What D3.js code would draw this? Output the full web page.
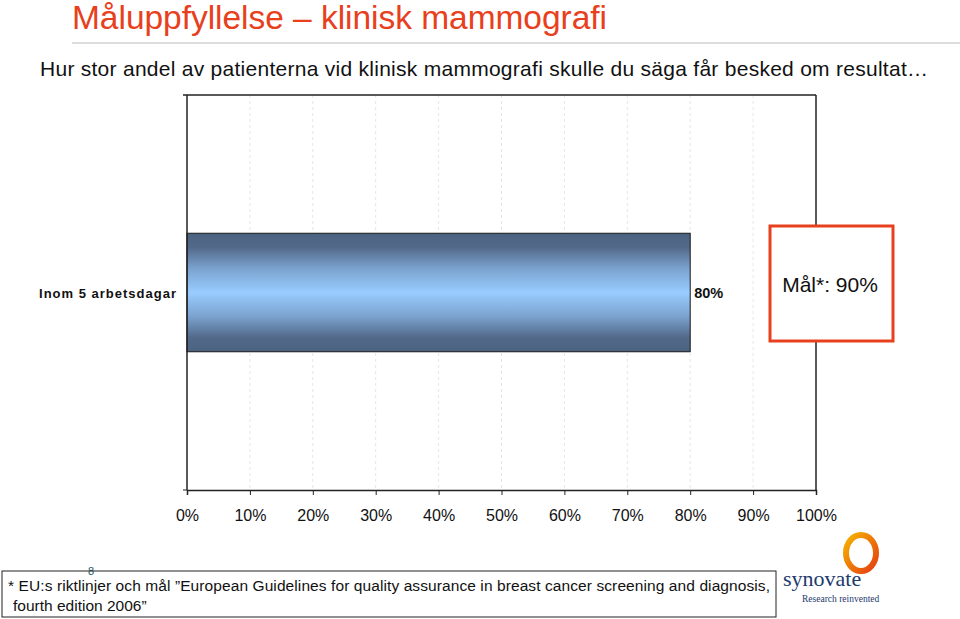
<!DOCTYPE html>
<html><head><meta charset="utf-8">
<script src="https://cdn.jsdelivr.net/npm/d3@7"></script>
<style>body{margin:0;background:#fff}svg{display:block;font-family:"Liberation Sans",Arial,sans-serif}</style>
</head><body>
<svg id="c" width="960" height="619"></svg>
<script>
const categories = ["Inom 5 arbetsdagar"];
const values = [80];
const valueLabels = ["80%"];
const ticks = [0,10,20,30,40,50,60,70,80,90,100];
const goal = 90;
const titleText = "Måluppfyllelse – klinisk mammografi";
const subtitleText = "Hur stor andel av patienterna vid klinisk mammografi skulle du säga får besked om resultat…";

const svg = d3.select("#c");
const red = "#e8401c";
const L = 187, R = 816, T = 95, B = 490;
const x = d3.scaleLinear().domain([0,100]).range([L,R]);
const y = d3.scaleBand().domain(categories).range([T,B]).paddingInner(0.7).paddingOuter(0.35);

// title
svg.append("text").attr("x",72).attr("y",29).attr("fill",red).attr("font-size",33.5).attr("textLength",535).text(titleText);
svg.append("line").attr("x1",72).attr("x2",960).attr("y1",43).attr("y2",43).attr("stroke","#d0d0d0").attr("stroke-width",1.5);
svg.append("text").attr("x",40).attr("y",76).attr("fill","#111").attr("font-size",21).attr("textLength",888).text(subtitleText);

// gradient
const defs = svg.append("defs");
const g = defs.append("linearGradient").attr("id","bg").attr("x1",0).attr("x2",0).attr("y1",0).attr("y2",1);
[[0,"#4a6280"],[0.12,"#53698a"],[0.3,"#7ba3cf"],[0.5,"#99ccff"],[0.7,"#7ba3cf"],[0.88,"#53698a"],[1,"#4a6280"]]
  .forEach(([o,c])=>g.append("stop").attr("offset",o).attr("stop-color",c));

// grid
svg.append("g").selectAll("line").data(ticks.slice(1,-1)).join("line")
  .attr("x1",d=>x(d)).attr("x2",d=>x(d)).attr("y1",T).attr("y2",B)
  .attr("stroke","#e6e6e6").attr("stroke-dasharray","3,3");

// plot border
svg.append("line").attr("x1",L-4).attr("x2",R).attr("y1",T).attr("y2",T).attr("stroke","#222").attr("stroke-width",1.5);
svg.append("line").attr("x1",R).attr("x2",R).attr("y1",T).attr("y2",B).attr("stroke","#222").attr("stroke-width",1.5);

// bars
svg.append("g").selectAll("rect").data(values).join("rect")
  .attr("x",x(0)).attr("y",(d,i)=>y(categories[i])).attr("width",d=>x(d)-x(0)).attr("height",y.bandwidth())
  .attr("fill","url(#bg)").attr("stroke","#1a1a1a").attr("stroke-width",1);
svg.append("g").selectAll("text").data(values).join("text")
  .attr("x",d=>x(d)+4).attr("y",(d,i)=>y(categories[i])+y.bandwidth()/2+5)
  .attr("font-size",14.5).attr("font-weight","bold").attr("fill","#111").text((d,i)=>valueLabels[i]);

// x axis
const xa = svg.append("g").attr("transform",`translate(0,${B})`)
  .call(d3.axisBottom(x).tickValues(ticks).tickFormat(d=>d+"%").tickSize(5).tickPadding(15));
xa.select(".domain").attr("stroke","#222").attr("stroke-width",1.5);
xa.selectAll(".tick line").attr("stroke","#222");
xa.selectAll("text").attr("font-size",16).attr("fill","#111").attr("font-family","Liberation Sans, Arial, sans-serif");

// y axis
const ya = svg.append("g").attr("transform",`translate(${L},0)`);
ya.append("line").attr("y1",T).attr("y2",B).attr("stroke","#222").attr("stroke-width",1.5);
ya.append("line").attr("x1",-4).attr("x2",0).attr("y1",B).attr("y2",B).attr("stroke","#222");
ya.selectAll("text").data(categories).join("text")
  .attr("x",-10).attr("y",d=>y(d)+y.bandwidth()/2+5).attr("text-anchor","end")
  .attr("font-size",13).attr("font-weight","bold").attr("letter-spacing",1).attr("fill","#111").text(d=>d);

// goal box
svg.append("rect").attr("x",770).attr("y",226).attr("width",123).attr("height",115)
  .attr("fill","#fff").attr("stroke",red).attr("stroke-width",3);
svg.append("text").attr("x",830).attr("y",292).attr("text-anchor","middle").attr("font-size",21).attr("fill","#111").text(`Mål*: ${goal}%`);

// footnote
svg.append("text").attr("x",88).attr("y",575).attr("font-size",11).attr("fill","#2a5a6a").text("8");
svg.append("rect").attr("x",2).attr("y",571).attr("width",774).attr("height",46).attr("fill","none").attr("stroke","#222").attr("stroke-width",1);
svg.append("text").attr("x",8).attr("y",591).attr("font-size",15.5).attr("fill","#111").attr("textLength",762)
  .text("* EU:s riktlinjer och mål ”European Guidelines for quality assurance in breast cancer screening and diagnosis,");
svg.append("text").attr("x",13).attr("y",611).attr("font-size",15.5).attr("fill","#111").text("fourth edition 2006”");

// logo
const lg = defs.append("linearGradient").attr("id","lg").attr("x1",0).attr("x2",1).attr("y1",0).attr("y2",1);
lg.append("stop").attr("offset",0).attr("stop-color","#f5b400");
lg.append("stop").attr("offset",1).attr("stop-color","#e53d12");
svg.append("ellipse").attr("cx",861).attr("cy",553).attr("rx",15).attr("ry",18).attr("fill","none").attr("stroke","url(#lg)").attr("stroke-width",6);
svg.append("text").attr("x",783).attr("y",586).attr("font-family","Liberation Serif, serif").attr("font-size",22).attr("fill","#1d3a6e").text("synovate");
svg.append("text").attr("x",802).attr("y",602).attr("font-family","Liberation Serif, serif").attr("font-size",9.5).attr("fill","#1d3a6e").text("Research reinvented");
</script>
</body></html>
